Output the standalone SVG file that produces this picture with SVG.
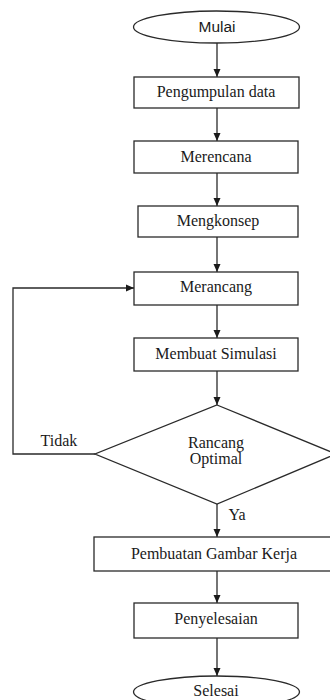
<svg xmlns="http://www.w3.org/2000/svg" width="330" height="700" viewBox="0 0 330 700">
<style>
.b{fill:#fff;stroke:#2a2a2a;stroke-width:1.3}
.t{font-family:"Liberation Serif","Times New Roman",serif;font-size:16px;fill:#1a1a1a;text-anchor:middle}
.s{font-family:"Liberation Sans",Arial,sans-serif;font-size:14px;fill:#1a1a1a;text-anchor:middle}
.c{fill:none;stroke:#2a2a2a;stroke-width:1.3}
</style>
<defs>
<marker id="a" viewBox="0 0 8 8" refX="8" refY="4" markerWidth="8" markerHeight="8" markerUnits="userSpaceOnUse" orient="auto">
<path d="M0,0.5 L8,4 L0,7.5 Z" fill="#1a1a1a"/>
</marker>
</defs>
<rect width="330" height="700" fill="#fff"/>
<g id="connectors">
<line class="c" x1="217" y1="43" x2="217" y2="77" marker-end="url(#a)"/>
<line class="c" x1="217" y1="108" x2="217" y2="141" marker-end="url(#a)"/>
<line class="c" x1="217" y1="173" x2="217" y2="206" marker-end="url(#a)"/>
<line class="c" x1="217" y1="237" x2="217" y2="272" marker-end="url(#a)"/>
<line class="c" x1="217" y1="305" x2="217" y2="338" marker-end="url(#a)"/>
<line class="c" x1="217" y1="371" x2="217" y2="405" marker-end="url(#a)"/>
<line class="c" x1="217" y1="504" x2="217" y2="537" marker-end="url(#a)"/>
<line class="c" x1="217" y1="571" x2="217" y2="603" marker-end="url(#a)"/>
<line class="c" x1="217" y1="638" x2="217" y2="676" marker-end="url(#a)"/>
<polyline class="c" points="95,454 13,454 13,288 134,288" marker-end="url(#a)"/>
<text class="t" x="59" y="446">Tidak</text>
<text class="t" x="237" y="520">Ya</text>
</g>
<g id="mulai">
<ellipse class="b" cx="216.5" cy="27" rx="83" ry="16"/>
<text class="s" x="217" y="32" textLength="37" lengthAdjust="spacingAndGlyphs">Mulai</text>
</g>
<g id="pengumpulan">
<rect class="b" x="134" y="77" width="165" height="31"/>
<text class="t" x="216" y="97">Pengumpulan data</text>
</g>
<g id="merencana">
<rect class="b" x="134" y="141" width="164" height="32"/>
<text class="t" x="216" y="162">Merencana</text>
</g>
<g id="mengkonsep">
<rect class="b" x="138" y="206" width="160" height="31"/>
<text class="t" x="218" y="226">Mengkonsep</text>
</g>
<g id="merancang">
<rect class="b" x="134" y="272" width="164" height="33"/>
<text class="t" x="216" y="292">Merancang</text>
</g>
<g id="simulasi">
<rect class="b" x="134" y="338" width="164" height="33"/>
<text class="t" x="216" y="359">Membuat Simulasi</text>
</g>
<g id="keputusan">
<polygon class="b" points="217,405 336,454 217,504 95,454"/>
<text class="t" x="216" y="448">Rancang</text>
<text class="t" x="216" y="464">Optimal</text>
</g>
<g id="gambar">
<rect class="b" x="94" y="537" width="245" height="34"/>
<text class="t" x="214" y="559">Pembuatan Gambar Kerja</text>
</g>
<g id="penyelesaian">
<rect class="b" x="134" y="603" width="164" height="35"/>
<text class="t" x="216" y="624">Penyelesaian</text>
</g>
<g id="selesai">
<ellipse class="b" cx="216.5" cy="692" rx="83" ry="16"/>
<text class="t" x="216" y="696">Selesai</text>
</g>
</svg>
